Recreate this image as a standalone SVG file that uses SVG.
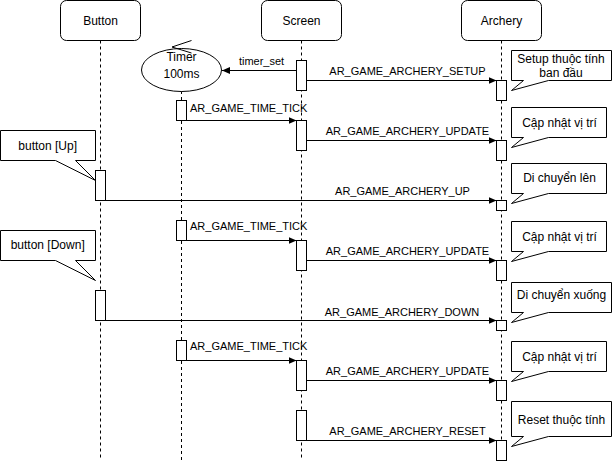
<svg xmlns="http://www.w3.org/2000/svg" width="613" height="462" viewBox="0 0 613 462">
<style>
.box{fill:#fff;stroke:#000;stroke-width:1}
.life{stroke:#000;stroke-width:1;stroke-dasharray:3 3;fill:none}
.msg{stroke:#000;stroke-width:1;fill:none;marker-end:url(#arr)}
.t12{font-family:"Liberation Sans",Arial,sans-serif;font-size:12px;fill:#000;text-anchor:middle}
.t11{font-family:"Liberation Sans",Arial,sans-serif;font-size:11px;fill:#000;text-anchor:middle}
.st{text-anchor:start}
</style>
<defs>
<marker id="arr" markerUnits="userSpaceOnUse" markerWidth="10" markerHeight="10" refX="8" refY="4" orient="auto">
<path d="M0,0.5 L8,4 L0,7.5 Z" fill="#000"/>
</marker>
</defs>
<rect width="613" height="462" fill="#fff"/>
<g id="lifelines">
<line class="life" x1="100.5" y1="40.5" x2="100.5" y2="460"/>
<line class="life" x1="301.5" y1="40.5" x2="301.5" y2="460"/>
<line class="life" x1="501.5" y1="40.5" x2="501.5" y2="460"/>
<line class="life" x1="181.5" y1="91" x2="181.5" y2="460"/>
</g>
<g id="button">
<rect class="box" x="60.5" y="0.5" width="80" height="40" rx="6"/>
<text class="t12" x="100.5" y="24.5">Button</text>
</g>
<g id="screen">
<rect class="box" x="261.5" y="0.5" width="80" height="40" rx="6"/>
<text class="t12" x="301.5" y="24.5">Screen</text>
</g>
<g id="archery">
<rect class="box" x="461.5" y="0.5" width="80" height="40" rx="6"/>
<text class="t12" x="501.5" y="24.5">Archery</text>
</g>
<g id="timer">
<ellipse class="box" cx="181.5" cy="70" rx="40" ry="21.5"/>
<path d="M191.5,40.5 L172,47 L191.5,53" fill="none" stroke="#000"/>
<text class="t12" x="181.5" y="61">Timer</text>
<text class="t12" x="181.5" y="77.5">100ms</text>
</g>
<g id="activations">
<rect class="box" x="296.5" y="60.5" width="10" height="30"/>
<rect class="box" x="296.5" y="120.5" width="10" height="30"/>
<rect class="box" x="296.5" y="240.5" width="10" height="30"/>
<rect class="box" x="296.5" y="360.5" width="10" height="30"/>
<rect class="box" x="296.5" y="410.5" width="10" height="30"/>
<rect class="box" x="496.5" y="80.5" width="10" height="20"/>
<rect class="box" x="496.5" y="140.5" width="10" height="20"/>
<rect class="box" x="496.5" y="200.5" width="10" height="10"/>
<rect class="box" x="496.5" y="260.5" width="10" height="20"/>
<rect class="box" x="496.5" y="320.5" width="10" height="10"/>
<rect class="box" x="496.5" y="380.5" width="10" height="20"/>
<rect class="box" x="496.5" y="440.5" width="10" height="20"/>
<rect class="box" x="176.5" y="100.5" width="10" height="20"/>
<rect class="box" x="176.5" y="220.5" width="10" height="20"/>
<rect class="box" x="176.5" y="340.5" width="10" height="20"/>
<rect class="box" x="95.5" y="170.5" width="10" height="30"/>
<rect class="box" x="95.5" y="290.5" width="10" height="30"/>
</g>
<g id="connectors">
<line class="msg" x1="296.5" y1="70.5" x2="222" y2="70.5"/>
<text class="t11" x="261.5" y="64.5">timer_set</text>
<line class="msg" x1="306.5" y1="80.5" x2="496.5" y2="80.5"/>
<text class="t11" x="407.5" y="74.5">AR_GAME_ARCHERY_SETUP</text>
<line class="msg" x1="186.5" y1="120.5" x2="296.5" y2="120.5"/>
<text class="t11 st" x="190" y="112">AR_GAME_TIME_TICK</text>
<line class="msg" x1="306.5" y1="140.5" x2="496.5" y2="140.5"/>
<text class="t11" x="407.5" y="134.5">AR_GAME_ARCHERY_UPDATE</text>
<line class="msg" x1="95.5" y1="200.5" x2="496.5" y2="200.5"/>
<text class="t11" x="402.5" y="195">AR_GAME_ARCHERY_UP</text>
<line class="msg" x1="186.5" y1="240.5" x2="296.5" y2="240.5"/>
<text class="t11 st" x="190" y="230">AR_GAME_TIME_TICK</text>
<line class="msg" x1="306.5" y1="260.5" x2="496.5" y2="260.5"/>
<text class="t11" x="407.5" y="254.5">AR_GAME_ARCHERY_UPDATE</text>
<line class="msg" x1="95.5" y1="320.5" x2="496.5" y2="320.5"/>
<text class="t11" x="402" y="315.5">AR_GAME_ARCHERY_DOWN</text>
<line class="msg" x1="186.5" y1="360.5" x2="296.5" y2="360.5"/>
<text class="t11 st" x="190" y="350">AR_GAME_TIME_TICK</text>
<line class="msg" x1="306.5" y1="380.5" x2="496.5" y2="380.5"/>
<text class="t11" x="407.5" y="374.5">AR_GAME_ARCHERY_UPDATE</text>
<line class="msg" x1="306.5" y1="440.5" x2="496.5" y2="440.5"/>
<text class="t11" x="407.5" y="434.5">AR_GAME_ARCHERY_RESET</text>
</g>
<g id="note-setup">
<path class="box" d="M511.5,50.5 H611.5 V80.5 H548.5 L511.5,90.5 L523.5,80.5 H511.5 Z"/>
<text class="t12" x="561" y="62.5">Setup thuộc tính</text>
<text class="t12" x="561" y="77">ban đầu</text>
</g>
<g id="note-update1">
<path class="box" d="M511.5,107.5 H606.5 V137.5 H548.5 L511.5,147.5 L523.5,137.5 H511.5 Z"/>
<text class="t12" x="559.5" y="127">Cập nhật vị trí</text>
</g>
<g id="note-up">
<path class="box" d="M511.5,163.5 H606.5 V193.5 H548.5 L511.5,203.5 L523.5,193.5 H511.5 Z"/>
<text class="t12" x="559.5" y="182">Di chuyển lên</text>
</g>
<g id="note-update2">
<path class="box" d="M511.5,221.5 H606.5 V251.5 H548.5 L511.5,261.5 L523.5,251.5 H511.5 Z"/>
<text class="t12" x="559.5" y="241">Cập nhật vị trí</text>
</g>
<g id="note-down">
<path class="box" d="M511.5,282.5 H611.5 V312.5 H548.5 L511.5,322.5 L523.5,312.5 H511.5 Z"/>
<text class="t12" x="561.5" y="298.5">Di chuyển xuống</text>
</g>
<g id="note-update3">
<path class="box" d="M511.5,341.5 H606.5 V371.5 H548.5 L511.5,381.5 L523.5,371.5 H511.5 Z"/>
<text class="t12" x="559.5" y="361">Cập nhật vị trí</text>
</g>
<g id="note-reset">
<path class="box" d="M511.5,401.5 H611.5 V436.5 H548.5 L511.5,446.5 L523.5,436.5 H511.5 Z"/>
<text class="t12" x="561.5" y="424">Reset thuộc tính</text>
</g>
<g id="note-btn-up">
<path class="box" d="M0.5,130.5 H95.5 V160.5 H75.5 L95.5,180.5 L55.5,160.5 H0.5 Z"/>
<text class="t12" x="47.7" y="149.5">button [Up]</text>
</g>
<g id="note-btn-down">
<path class="box" d="M0.5,230.5 H95.5 V260.5 H75.5 L95.5,280.5 L55.5,260.5 H0.5 Z"/>
<text class="t12" x="47.7" y="249">button [Down]</text>
</g>
</svg>
